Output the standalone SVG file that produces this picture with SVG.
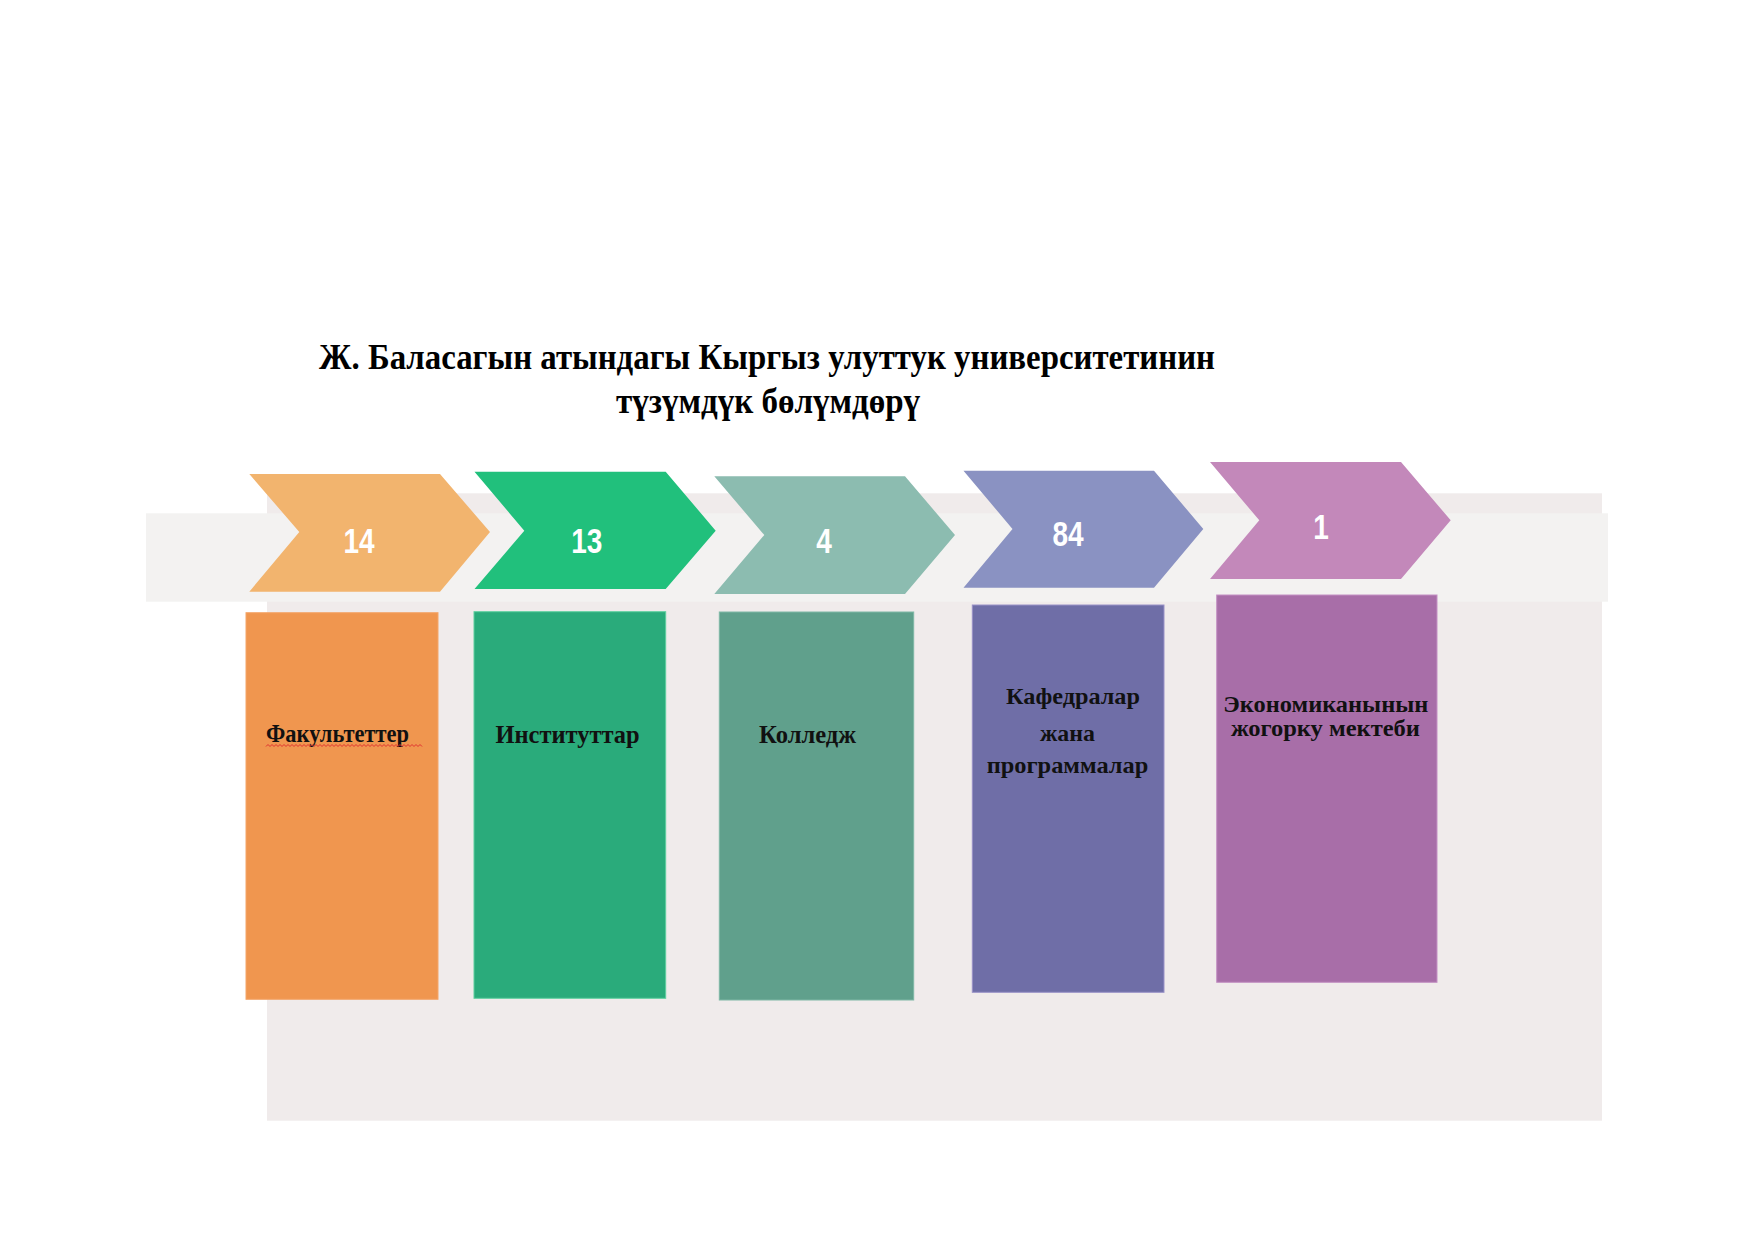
<svg xmlns="http://www.w3.org/2000/svg" width="1755" height="1241" viewBox="0 0 1755 1241">
<style>
.title{font-family:"Liberation Serif","Times New Roman",serif;font-weight:bold;font-size:35px;fill:#000;text-anchor:middle}
.num{font-family:"Liberation Sans",Arial,sans-serif;font-weight:bold;font-size:35px;fill:#fff;text-anchor:middle}
.lbl{font-family:"Liberation Serif","Times New Roman",serif;font-weight:bold;font-size:25px;fill:#111;text-anchor:middle}
.lbl2{font-family:"Liberation Serif","Times New Roman",serif;font-weight:bold;font-size:24px;fill:#111;text-anchor:middle}
</style>
<rect width="1755" height="1241" fill="#ffffff"/>
<g id="background">
<rect x="267" y="493.3" width="1335" height="627.4" fill="#f0ebeb"/>
<rect x="146" y="513.3" width="1462" height="88.4" fill="#f3f2f1"/>
</g>
<g id="title">
<text class="title" x="767" y="369" textLength="896" lengthAdjust="spacingAndGlyphs">Ж. Баласагын атындагы Кыргыз улуттук университетинин</text>
<text class="title" x="768" y="413" textLength="304" lengthAdjust="spacingAndGlyphs">түзүмдүк бөлүмдөрү</text>
</g>
<g id="connectors"></g>
<g id="node-fak">
<polygon points="249.3,474 440,474 490,532 440,591.7 249.3,591.7 299.3,532" fill="#f2b46e"/>
<text class="num" transform="translate(359,553) scale(0.8,1)">14</text>
<rect x="246" y="612.7" width="192" height="386.6" fill="#f0964f" stroke="#f4a66a" stroke-width="1"/>
<text class="lbl" x="337.5" y="742" textLength="143" lengthAdjust="spacingAndGlyphs">Факультеттер</text>
<path d="M266,746.5 l2,-2 l2,2 l2,-2 l2,2 l2,-2 l2,2 l2,-2 l2,2 l2,-2 l2,2 l2,-2 l2,2 l2,-2 l2,2 l2,-2 l2,2 l2,-2 l2,2 l2,-2 l2,2 l2,-2 l2,2 l2,-2 l2,2 l2,-2 l2,2 l2,-2 l2,2 l2,-2 l2,2 l2,-2 l2,2 l2,-2 l2,2 l2,-2 l2,2 l2,-2 l2,2 l2,-2 l2,2 l2,-2 l2,2 l2,-2 l2,2 l2,-2 l2,2 l2,-2 l2,2 l2,-2 l2,2 l2,-2 l2,2 l2,-2 l2,2 l2,-2 l2,2 l2,-2 l2,2 l2,-2 l2,2 l2,-2 l2,2 l2,-2 l2,2 l2,-2 l2,2 l2,-2 l2,2 l2,-2 l2,2 l2,-2 l2,2 l2,-2 l2,2 l2,-2 l2,2 l2,-2 l2,2" fill="none" stroke="#e03030" stroke-width="1"/>
</g>
<g id="node-inst">
<polygon points="474.5,471.7 665.7,471.7 715.7,530.7 665.7,589 474.5,589 524.3,530.7" fill="#21c07c"/>
<text class="num" transform="translate(586.7,553) scale(0.8,1)">13</text>
<rect x="474" y="611.7" width="191.7" height="386.6" fill="#2aab7b" stroke="#5fd0a0" stroke-width="1"/>
<text class="lbl" x="567.5" y="743" textLength="144" lengthAdjust="spacingAndGlyphs">Институттар</text>
</g>
<g id="node-koll">
<polygon points="714.3,476.3 905,476.3 955,535 905,594 714.3,594 764.3,535" fill="#8cbcb0"/>
<text class="num" transform="translate(824,553) scale(0.8,1)">4</text>
<rect x="719.3" y="612" width="194.4" height="388" fill="#60a08c" stroke="#7fb8a6" stroke-width="1"/>
<text class="lbl" x="807.6" y="743" textLength="97" lengthAdjust="spacingAndGlyphs">Колледж</text>
</g>
<g id="node-kaf">
<polygon points="963.5,470.7 1154,470.7 1203.3,529 1154,587.7 963.5,587.7 1012.5,529" fill="#8a92c2"/>
<text class="num" transform="translate(1068,546) scale(0.8,1)">84</text>
<rect x="972.3" y="605" width="191.7" height="387.3" fill="#6f6ea7" stroke="#9a92c8" stroke-width="1"/>
<text class="lbl2" x="1073" y="704" textLength="134" lengthAdjust="spacingAndGlyphs">Кафедралар</text>
<text class="lbl2" x="1067.5" y="740.7" textLength="55" lengthAdjust="spacingAndGlyphs">жана</text>
<text class="lbl2" x="1067.5" y="773" textLength="161.7" lengthAdjust="spacingAndGlyphs">программалар</text>
</g>
<g id="node-econ">
<polygon points="1210,462 1401,462 1450.7,520.3 1401,579 1210,579 1259.3,520.3" fill="#c388ba"/>
<text class="num" transform="translate(1321,539) scale(0.8,1)">1</text>
<rect x="1216.7" y="595" width="220.3" height="387.3" fill="#a86ea8" stroke="#c490c4" stroke-width="1"/>
<text class="lbl2" x="1325.8" y="711.7" textLength="205" lengthAdjust="spacingAndGlyphs">Экономиканынын</text>
<text class="lbl2" x="1325.5" y="736" textLength="189" lengthAdjust="spacingAndGlyphs">жогорку мектеби</text>
</g>
</svg>
